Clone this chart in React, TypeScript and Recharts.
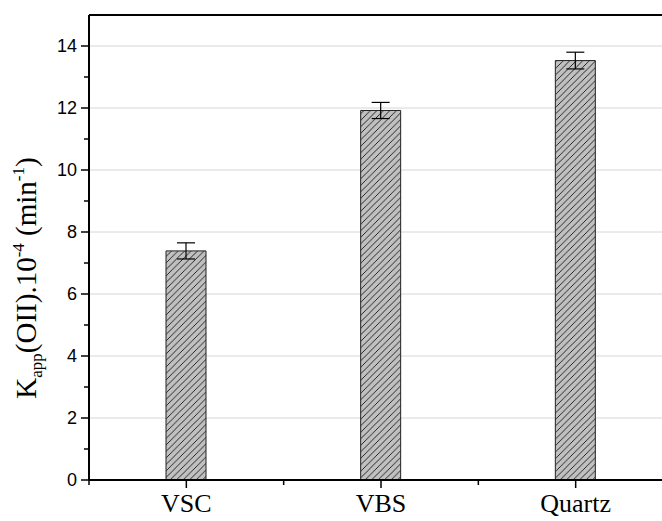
import { Bar, CartesianGrid, ComposedChart, ErrorBar, ReferenceLine, XAxis, YAxis } from 'recharts';

const categories = ['VSC', 'VBS', 'Quartz'];
const kapp = [7.39, 11.92, 13.53];
const kappErr = [0.26, 0.26, 0.27];
const xTicks = [0.5, 1, 1.5, 2, 2.5, 3, 3.5];
const yTicks = [0, 1, 2, 3, 4, 5, 6, 7, 8, 9, 10, 11, 12, 13, 14, 15];
const gridValues = [2, 4, 6, 8, 10, 12, 14];

const data = categories.map((name, i) => ({ x: i + 1, name, value: kapp[i], err: kappErr[i] }));

const SERIF = '"Liberation Serif", "Times New Roman", serif';
const SANS = '"Liberation Sans", Arial, sans-serif';

function YTick(props: any) {
  const { x, y, payload } = props;
  const v = payload.value as number;
  const major = v % 2 === 0;
  if (v === 15) return null;
  return (
    <g>
      <line x1={x} x2={x - (major ? 8 : 5)} y1={y} y2={y} stroke="#000" strokeWidth={1.5} />
      {major && (
        <text x={x - 12} y={y} dy="0.36em" textAnchor="end" fontFamily={SANS} fontSize={18} fill="#000">
          {v}
        </text>
      )}
    </g>
  );
}

function XTick(props: any) {
  const { x, y, payload } = props;
  const v = payload.value as number;
  const major = Number.isInteger(v);
  return (
    <g>
      <line x1={x} x2={x} y1={y} y2={y + (major ? 8 : 5)} stroke="#000" strokeWidth={1.5} />
      {major && (
        <text x={x} y={y + 32} textAnchor="middle" fontFamily={SERIF} fontSize={26} fill="#000">
          {categories[v - 1]}
        </text>
      )}
    </g>
  );
}

function YLabel() {
  const cx = 36;
  const cy = 278;
  return (
    <text x={cx} y={cy} transform={`rotate(-90, ${cx}, ${cy})`} textAnchor="middle" fontFamily={SERIF} fontSize={29} fill="#000">
      K
      <tspan fontSize={17} dy={6}>app</tspan>
      <tspan dy={-6}>(OII).10</tspan>
      <tspan fontSize={17} dy={-12}>-4</tspan>
      <tspan dy={12}> (min</tspan>
      <tspan fontSize={17} dy={-12}>-1</tspan>
      <tspan dy={12}>)</tspan>
    </text>
  );
}

export default function App() {
  return (
    <div style={{ position: 'absolute', left: 0, top: 0, width: 662, height: 521, overflow: 'hidden', background: '#fff' }}>
      <ComposedChart width={683} height={521} data={data} margin={{ top: 15, right: 10, bottom: 40, left: 88 }}>
        <defs>
          <pattern id="hatch" patternUnits="userSpaceOnUse" width={6.5} height={6.5}>
            <rect width={6.5} height={6.5} fill="#c0c0c0" />
            <path d="M0,6.5 L6.5,0 M-1,1 L1,-1 M5.5,7.5 L7.5,5.5" stroke="#000" strokeWidth={0.8} />
          </pattern>
        </defs>
        <CartesianGrid vertical={false} horizontalValues={gridValues} stroke="#d6d6d6" />
        <XAxis
          dataKey="x"
          type="number"
          domain={[0.5, 3.5]}
          ticks={xTicks}
          allowDataOverflow
          interval={0}
          height={1}
          tickSize={0}
          tickMargin={0}
          tickLine={false}
          tick={<XTick />}
          stroke="#000"
          strokeWidth={2}
        />
        <YAxis
          type="number"
          domain={[0, 15]}
          ticks={yTicks}
          interval={0}
          width={1}
          tickSize={0}
          tickMargin={0}
          tickLine={false}
          tick={<YTick />}
          stroke="#000"
          strokeWidth={2}
          label={<YLabel />}
        />
        <ReferenceLine y={15} stroke="#000" strokeWidth={2} />
        <Bar dataKey="value" barSize={40} fill="url(#hatch)" stroke="#222" strokeWidth={1} isAnimationActive={false}>
          <ErrorBar dataKey="err" width={9} stroke="#000" strokeWidth={1.2} />
        </Bar>
      </ComposedChart>
    </div>
  );
}
